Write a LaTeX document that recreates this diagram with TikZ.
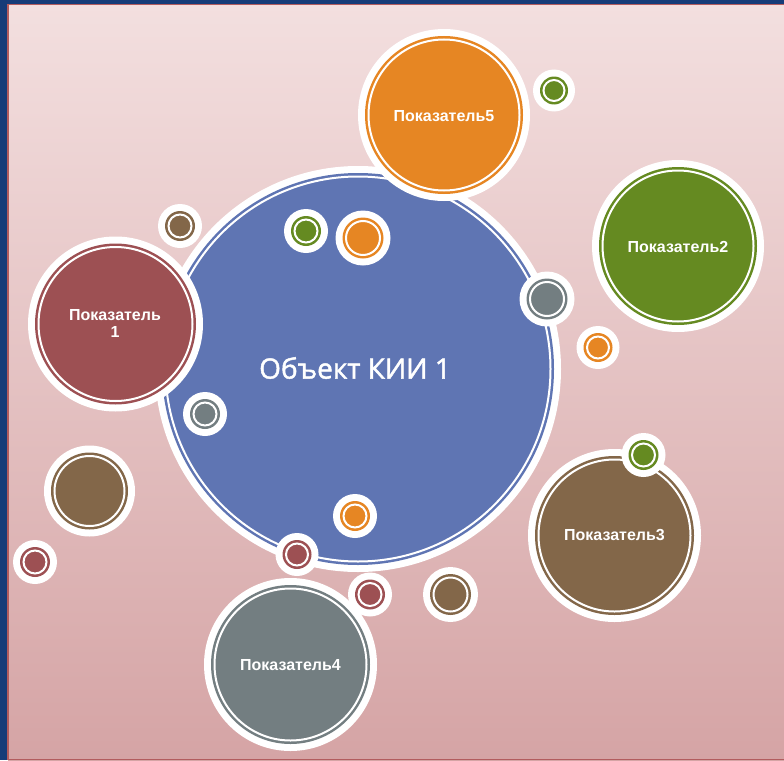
\documentclass[tikz,border=0pt]{standalone}
\usepackage{fontspec}
\setmainfont{Liberation Sans}
\newfontfamily\titlefont[FakeBold=1.6]{Open Sans}
\definecolor{borderblue}{HTML}{163C78}
\definecolor{redline}{HTML}{B25C5E}
\definecolor{bgtop}{HTML}{F3DFDF}
\definecolor{bgbot}{HTML}{D5A4A5}
\definecolor{cblue}{HTML}{5F75B3}
\definecolor{corange}{HTML}{E68623}
\definecolor{cgreen}{HTML}{658A21}
\definecolor{cred}{HTML}{9D5053}
\definecolor{cbrown}{HTML}{836749}
\definecolor{cgray}{HTML}{737E81}
\tikzset{
  lbl/.style={text=white, font=\fontsize{16}{17}\selectfont\bfseries, align=center, inner sep=0pt},
  title/.style={text=white, font=\titlefont\fontsize{28}{30}\selectfont, inner sep=0pt}
}
\newcommand\mybub[3]{%
  \fill[white] (#1) circle[radius=#2pt];
  \fill[#3] (#1) circle[radius=#2pt-7pt];
  \draw[white, line width=2pt] (#1) circle[radius=#2pt-10.5pt];
}
\begin{document}
\begin{tikzpicture}[x=1pt,y=-1pt]
\useasboundingbox (0,0) rectangle (784,760);
\fill[borderblue] (0,0) rectangle (784,760);
\shade[top color=bgtop, bottom color=bgbot] (8,4.5) rectangle (784,760);
\draw[redline, line width=1.2pt] (784,4.5) -- (8,4.5) -- (8,760);
\draw[redline, line width=1pt] (8,759.5) -- (784,759.5);

% centres
\coordinate (cM) at (358,369);
\coordinate (s1) at (306,231);
\coordinate (s2) at (363,238);
\coordinate (s3) at (205,414);
\coordinate (s4) at (355,516);
\coordinate (s5) at (297,554.5);
\coordinate (s6) at (547,299);
\coordinate (c5) at (444,115);
\coordinate (c1) at (115.5,324);
\coordinate (c2) at (678,246);
\coordinate (c3) at (614.5,535.5);
\coordinate (c4) at (290.5,664.5);
\coordinate (s7) at (554,90.5);
\coordinate (s8) at (598,347.5);
\coordinate (s9) at (643.5,455);
\coordinate (s10) at (89.5,491);
\coordinate (s11) at (180,226);
\coordinate (s12) at (35,562);
\coordinate (s13) at (370,594.5);
\coordinate (s14) at (450.5,594.5);

% main circle
\mybub{cM}{203}{cblue}
\mybub{s1}{22}{cgreen}
\mybub{s2}{27.5}{corange}
\mybub{s3}{22}{cgray}
\mybub{s4}{22}{corange}
\mybub{s5}{21.5}{cred}
\mybub{s6}{27.5}{cgray}
\node[title] (tM) at (355,368) {Объект КИИ 1};

% indicator circles
\mybub{c5}{86}{corange}
\node[lbl] (t5) at (444,116) {Показатель5};
\mybub{c1}{87.5}{cred}
\node[lbl] (t1) at (115,323) {Показатель\\1};
\mybub{c2}{86}{cgreen}
\node[lbl] (t2) at (678,247) {Показатель2};
\mybub{c3}{86.5}{cbrown}
\node[lbl] (t3) at (614.5,535) {Показатель3};
\mybub{s9}{22}{cgreen}
\mybub{c4}{86.5}{cgray}
\node[lbl] (t4) at (290.5,665) {Показатель4};

% free small circles
\mybub{s7}{21}{cgreen}
\mybub{s8}{21.5}{corange}
\mybub{s10}{45.5}{cbrown}
\mybub{s11}{22}{cbrown}
\mybub{s12}{22}{cred}
\mybub{s13}{22}{cred}
\mybub{s14}{27.5}{cbrown}
\end{tikzpicture}
\end{document}
